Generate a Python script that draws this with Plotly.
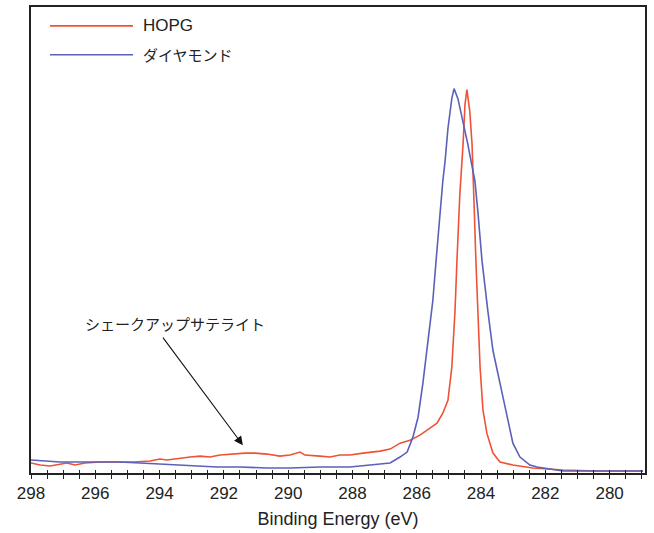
import plotly.graph_objects as go

# HOPG spectrum (binding energy eV, intensity a.u.)
hopg_ev = [298.00, 297.72, 297.41, 297.10, 296.88, 296.63, 296.32, 295.85, 295.39, 294.83,
           294.30, 293.99, 293.77, 293.37, 293.05, 292.74, 292.43, 292.12, 291.72, 291.34,
           291.03, 290.66, 290.26, 289.94, 289.63, 289.48, 289.01, 288.70, 288.39, 288.08,
           287.67, 287.14, 286.83, 286.52, 286.21, 285.90, 285.59, 285.37, 285.19, 285.03,
           284.91, 284.81, 284.75, 284.66, 284.56, 284.50, 284.44, 284.35, 284.28, 284.25,
           284.22, 284.16, 284.10, 284.03, 283.94, 283.82, 283.63, 283.41, 283.01, 282.39,
           281.45, 280.40, 278.96]
hopg_int = [2.14, 1.71, 1.50, 1.92, 2.14, 1.71, 2.14, 2.35, 2.35, 2.35,
            2.56, 2.99, 2.78, 3.21, 3.42, 3.63, 3.42, 3.85, 4.06, 4.27,
            4.27, 4.06, 3.63, 3.85, 4.49, 3.85, 3.63, 3.42, 3.85, 3.85,
            4.27, 4.70, 5.13, 6.41, 7.05, 8.12, 9.62, 10.68, 12.82, 15.60,
            22.65, 34.83, 45.51, 59.83, 70.51, 79.06, 82.26, 77.56, 70.51, 62.61,
            58.33, 45.51, 34.83, 22.65, 13.46, 8.55, 4.27, 2.35, 1.71, 1.07,
            0.64, 0.43, 0.43]

# Diamond spectrum
dia_ev = [298.00, 297.56, 297.10, 296.48, 295.85, 295.23, 294.61, 293.99, 293.52, 293.05,
          292.21, 291.50, 290.66, 289.94, 289.01, 288.08, 287.46, 286.83, 286.52, 286.30,
          286.12, 285.96, 285.81, 285.62, 285.50, 285.40, 285.28, 285.19, 285.12, 285.03,
          284.91, 284.84, 284.72, 284.56, 284.41, 284.28, 284.19, 284.10, 283.97, 283.79,
          283.63, 283.41, 283.19, 283.01, 282.79, 282.48, 282.26, 281.86, 281.45, 278.96]
dia_int = [2.78, 2.56, 2.35, 2.35, 2.35, 2.35, 2.14, 1.92, 1.71, 1.50,
           1.28, 1.28, 1.07, 1.07, 1.28, 1.28, 1.71, 2.14, 3.42, 4.49,
           7.69, 11.97, 19.23, 29.91, 36.97, 45.51, 56.20, 62.61, 66.88, 73.93,
           80.34, 82.48, 80.34, 75.43, 70.51, 65.81, 62.61, 56.20, 45.51, 34.83,
           26.28, 19.23, 11.97, 6.41, 3.42, 1.71, 1.28, 0.85, 0.43, 0.43]

series_names = ["HOPG", "ダイヤモンド"]
x_ticks = [298, 296, 294, 292, 290, 288, 286, 284, 282, 280]
x_title = "Binding Energy (eV)"
note_text = "シェークアップサテライト"
note_point = (291.41, 5.98)

RED = "#ef5235"
BLUE = "#5a61b8"
LATIN = "Liberation Sans, Arial, sans-serif"
CJK = "Noto Sans CJK JP, sans-serif"
XR = [298, 278.9]

fig = go.Figure()
fig.add_trace(go.Scatter(x=hopg_ev, y=hopg_int, mode="lines", name=series_names[0],
                         line=dict(color=RED, width=1.6), showlegend=False))
fig.add_trace(go.Scatter(x=dia_ev, y=dia_int, mode="lines", name=series_names[1],
                         line=dict(color=BLUE, width=1.6), showlegend=False))
# invisible trace to carry the inside-tick overlay axis
fig.add_trace(go.Scatter(x=[XR[0]], y=[0], xaxis="x2", mode="markers",
                         marker=dict(opacity=0), showlegend=False, hoverinfo="skip"))

# manual legend (line samples in paper coords)
W, H = 614.0, 468.0
def px(xp):
    return (xp - 31) / W
def py(yp):
    return (473 - yp) / H

for i, (c, yy) in enumerate([(RED, 24), (BLUE, 53)]):
    fig.add_shape(type="line", xref="paper", yref="paper",
                  x0=px(50), x1=px(133), y0=py(yy), y1=py(yy),
                  line=dict(color=c, width=1.6))
    fig.add_annotation(xref="paper", yref="paper", x=px(141), y=py(yy),
                       text=series_names[i], showarrow=False, xanchor="left", yanchor="middle",
                       font=dict(family=CJK if i else LATIN, size=15 if i else 17, color="#222"))

# satellite annotation
fig.add_annotation(x=note_point[0], y=note_point[1], xref="x", yref="y",
                   text="", showarrow=True, ax=-81, ay=-109,
                   arrowhead=2, arrowsize=1.6, arrowwidth=1.1, arrowcolor="#111")
fig.add_annotation(xref="paper", yref="paper", x=px(175), y=py(323),
                   text=note_text, showarrow=False, xanchor="center", yanchor="middle",
                   font=dict(family=CJK, size=15, color="#222"))

fig.update_layout(
    width=654, height=533,
    margin=dict(l=31, r=9, t=5, b=60),
    paper_bgcolor="white", plot_bgcolor="white",
    xaxis=dict(range=XR, tickvals=x_ticks, ticks="outside", ticklen=4, tickwidth=1.3,
               tickcolor="#222",
               minor=dict(dtick=0.5, tick0=298, ticks="outside", ticklen=4, tickwidth=1.3,
                          tickcolor="#222"),
               showline=True, linecolor="#222", linewidth=1.5, mirror=True,
               showgrid=False, zeroline=False,
               tickfont=dict(family=LATIN, size=17, color="#222"),
               title=dict(text=x_title, font=dict(family=LATIN, size=18, color="#222"),
                          standoff=10)),
    xaxis2=dict(range=XR, overlaying="x", anchor="y", side="bottom",
                tickmode="linear", tick0=298, dtick=0.5, ticks="inside", ticklen=3,
                tickwidth=1.3, tickcolor="#222", showticklabels=False,
                showgrid=False, zeroline=False, showline=False),
    yaxis=dict(range=[0, 100], showticklabels=False, ticks="", showgrid=False,
               zeroline=False, showline=True, linecolor="#222", linewidth=2, mirror=True),
)

fig.write_html("out.html", config={"displayModeBar": False},
               post_script="document.body.style.margin='0';document.body.style.padding='0';")
